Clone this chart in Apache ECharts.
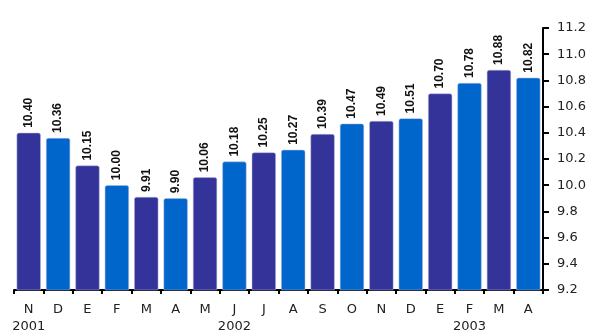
<!DOCTYPE html>
<html>
<head>
<meta charset="utf-8">
<script src="https://cdn.jsdelivr.net/npm/echarts@6/dist/echarts.min.js"></script>
<style>
	html, body { margin: 0; padding: 0; background: #fff; }
	#chart { width: 589px; height: 332px; }
</style>
</head>
<body>
<div id="chart"></div>
<script>
// months Nov 2001 - Apr 2003
const months = ["N", "D", "E", "F", "M", "A", "M", "J", "J", "A", "S", "O", "N", "D", "E", "F", "M", "A"];
const years = { 0: "2001", 7: "2002", 15: "2003" };
const values = [10.40, 10.36, 10.15, 10.00, 9.91, 9.90, 10.06, 10.18, 10.25, 10.27, 10.39, 10.47, 10.49, 10.51, 10.70, 10.78, 10.88, 10.82];
const colors = ["#333399", "#0066CC"];

const chart = echarts.init(document.getElementById("chart"));

chart.setOption({
	animation: false,
	backgroundColor: "#fff",
	grid: { left: 14, right: 46, top: 28, bottom: 42, containLabel: false, outerBoundsMode: "none" },
	xAxis: {
		type: "category",
		data: months,
		axisLine: { lineStyle: { color: "#000", width: 2 } },
		axisTick: { show: true, interval: 0, length: 4, lineStyle: { color: "#000", width: 2 } },
		axisLabel: {
			interval: 0,
			color: "#222",
			fontFamily: "DejaVu Sans",
			fontSize: 13,
			lineHeight: 17,
			margin: 11,
			formatter: (v, i) => years[i] ? v + "\n" + years[i] : v,
		},
	},
	yAxis: {
		type: "value",
		position: "right",
		min: 9.2,
		max: 11.2,
		interval: 0.2,
		splitLine: { show: false },
		axisLine: { show: true, lineStyle: { color: "#000", width: 2 } },
		axisTick: { show: true, inside: false, length: 6, lineStyle: { color: "#000", width: 2 } },
		axisLabel: {
			color: "#222",
			fontFamily: "DejaVu Sans",
			fontSize: 13,
			margin: 14,
			formatter: (v) => v.toFixed(1),
		},
	},
	series: [
		{
			type: "bar",
			data: values.map((v, i) => ({ value: v, itemStyle: { color: colors[i % 2] } })),
			barCategoryGap: "18%",
			itemStyle: { borderRadius: [2, 2, 0, 0], borderColor: "#b8b8e0", borderWidth: 0.5 },
			label: {
				show: true,
				position: "top",
				distance: 5,
				rotate: 90,
				align: "left",
				verticalAlign: "middle",
				color: "#111",
				fontFamily: "'Liberation Sans Narrow', 'Liberation Sans'",
				fontWeight: "bold",
				fontSize: 12,
				formatter: (p) => p.value.toFixed(2),
			},
		},
	],
});
</script>
</body>
</html>
